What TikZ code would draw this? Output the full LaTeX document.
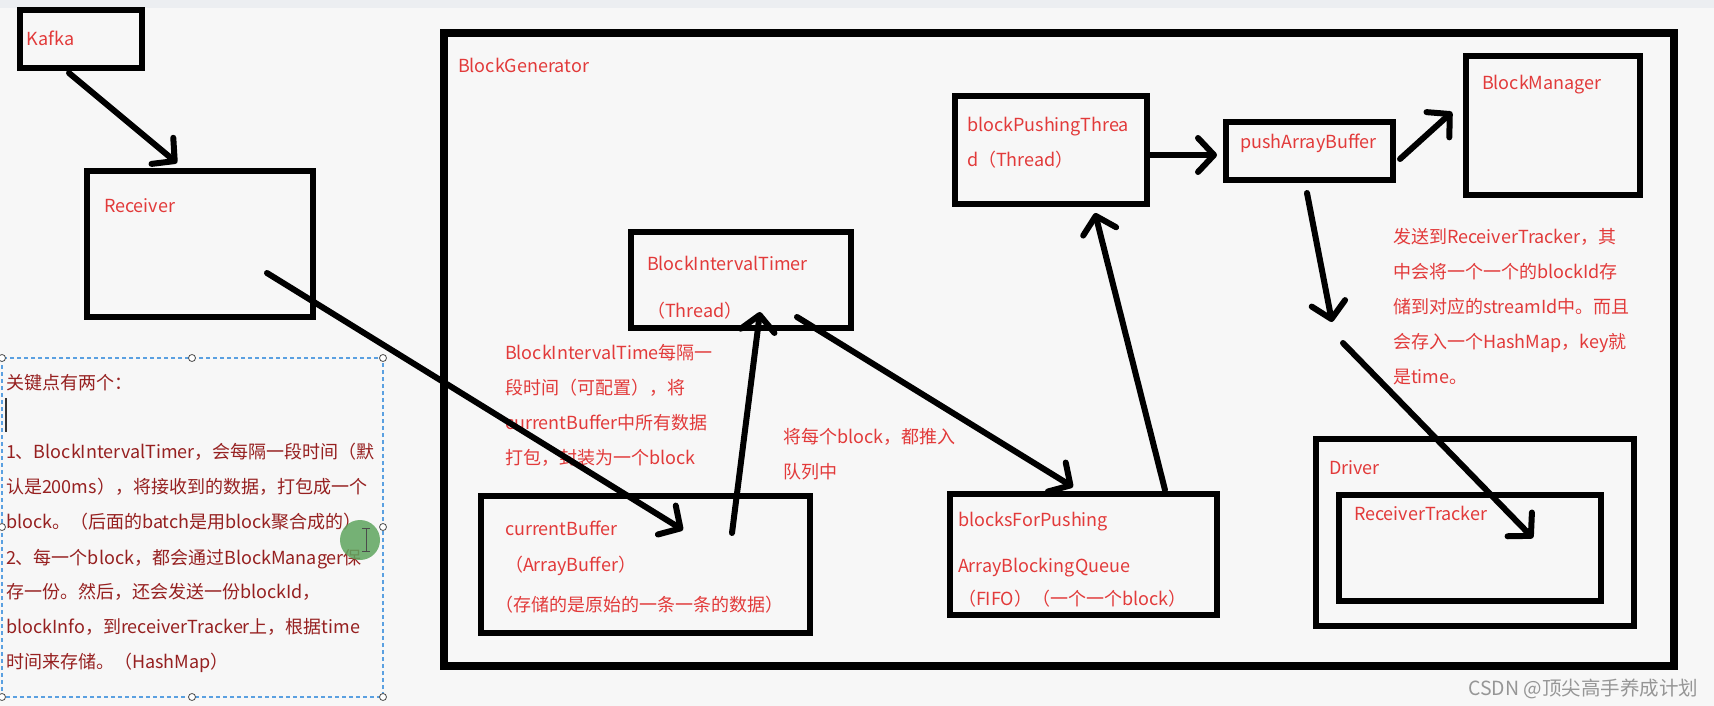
\documentclass[tikz,border=0pt]{standalone}
\usepackage{fontspec}
\setmainfont{Noto Sans CJK SC}
\usetikzlibrary{arrows.meta}
\definecolor{bgc}{RGB}{247,247,247}
\definecolor{topc}{RGB}{236,238,241}
\definecolor{txtred}{RGB}{226,58,58}
\definecolor{notered}{RGB}{150,32,32}
\definecolor{selblue}{RGB}{90,160,225}
\definecolor{wmgray}{RGB}{150,150,150}
\definecolor{greenc}{RGB}{95,165,95}
\begin{document}
\begin{tikzpicture}[x=1pt,y=-1pt,
  box/.style={draw=black, line width=6.5pt, inner sep=0pt, outer sep=0pt},
  lbl/.style={anchor=base west, inner sep=0pt, outer sep=0pt, text=txtred, font=\fontsize{18}{22}\selectfont},
  note/.style={lbl, text=notered},
  arr/.style={line width=6pt, line cap=round, -{Straight Barb[length=16pt,width=34pt,round]}},
  handle/.style={circle, draw=black!70, fill=white, line width=0.8pt, inner sep=0pt, minimum size=7pt}
]
\useasboundingbox (0,0) rectangle (1714,706);
\fill[bgc] (0,0) rectangle (1714,706);
\fill[topc] (0,0) rectangle (1714,8);

% boxes
\node[box, minimum width=122pt, minimum height=58pt] (kafka) at (81,39) {};
\node[box, minimum width=226pt, minimum height=146pt] (receiver) at (200,244) {};
\node[box, line width=7.5pt, minimum width=1230pt, minimum height=633pt] (bg) at (1059,349.5) {};
\node[box, minimum width=220pt, minimum height=96pt] (bit) at (741,280) {};
\node[box, minimum width=192pt, minimum height=108pt] (bpt) at (1051,150) {};
\node[box, minimum width=167pt, minimum height=58pt] (pab) at (1309.5,151) {};
\node[box, minimum width=174pt, minimum height=139pt] (bm) at (1553,125.5) {};
\node[box, minimum width=329pt, minimum height=137pt] (cb) at (645.5,564.5) {};
\node[box, minimum width=267pt, minimum height=121pt] (bfp) at (1083.5,554.5) {};
\node[box, minimum width=318pt, minimum height=187pt] (driver) at (1475,532.5) {};
\node[box, minimum width=262pt, minimum height=106pt] (rt) at (1470,548) {};

% labels
\node[lbl] (tkafka) at (27,46) {Kafka};
\node[lbl] (treceiver) at (104,212) {Receiver};
\node[lbl] (tbg) at (458,73) {BlockGenerator};
\node[lbl] (tbit1) at (647,270) {BlockIntervalTimer};
\node[lbl] (tbit2) at (647,317) {（Thread）};
\node[lbl] (tbpt1) at (967,132) {blockPushingThrea};
\node[lbl] (tbpt2) at (967,167) {d（Thread）};
\node[lbl] (tpab) at (1240,149) {pushArrayBuffer};
\node[lbl] (tbm) at (1482,90) {BlockManager};
\node[lbl] (tdriver) at (1329,474) {Driver};
\node[lbl] (trt) at (1354,520) {ReceiverTracker};
\node[lbl] (tbfp1) at (958,526) {blocksForPushing};
\node[lbl] (tbfp2) at (958,572) {ArrayBlockingQueue};
\node[lbl] (tbfp3) at (958,605) {（FIFO）（一个一个block）};
\node[lbl] (tcb1) at (505,535) {currentBuffer};
\node[lbl] (tcb2) at (505,571) {（ArrayBuffer）};
\node[lbl] (tcb3) at (495,611) {（存储的是原始的一条一条的数据）};

\node[lbl] (m1) at (505,359) {BlockIntervalTime每隔一};
\node[lbl] (m2) at (505,394) {段时间（可配置），将};
\node[lbl] (m3) at (505,429) {currentBuffer中所有数据};
\node[lbl] (m4) at (505,464) {打包，封装为一个block};

\node[lbl] (q1) at (783,443) {将每个block，都推入};
\node[lbl] (q2) at (783,478) {队列中};

\node[lbl] (r1) at (1393,243) {发送到ReceiverTracker，其};
\node[lbl] (r2) at (1393,278) {中会将一个一个的blockId存};
\node[lbl] (r3) at (1393,313) {储到对应的streamId中。而且};
\node[lbl] (r4) at (1393,348) {会存入一个HashMap，key就};
\node[lbl] (r5) at (1393,383) {是time。};

% left note with selection frame
\draw[selblue, line width=1.2pt, dash pattern=on 4pt off 3pt] (2,358) rectangle (383,697);
\foreach \hx/\hy [count=\i] in {2/358,192/358,383/358,2/527,383/527,2/697,192/697,383/697}
  \node[handle] (h\i) at (\hx,\hy) {};
\node[note] (n1) at (6,389) {关键点有两个：};
\draw[black!80, line width=2pt] (6,398) -- (6,432);
\node[note] (n2) at (6,458) {1、BlockIntervalTimer，会每隔一段时间（默};
\node[note] (n3) at (6,493) {认是200ms），将接收到的数据，打包成一个};
\node[note] (n4) at (6,528) {block。（后面的batch是用block聚合成的）};
\node[note] (n5) at (6,564) {2、每一个block，都会通过BlockManager保};
\node[note] (n6) at (6,598) {存一份。然后，还会发送一份blockId，};
\node[note] (n7) at (6,633) {blockInfo，到receiverTracker上，根据time};
\node[note] (n8) at (6,668) {时间来存储。（HashMap）};
\fill[greenc, opacity=0.85] (360,540) circle (20pt);
\draw[black!70, line width=1pt] (366,528) -- (366,551) (362,528) -- (370,528) (362,551) -- (370,551);

% watermark
\node[anchor=base west, inner sep=0pt, text=wmgray, font=\fontsize{19.5}{22}\selectfont] (wm) at (1468,695) {CSDN @顶尖高手养成计划};

% free ends
\coordinate (pabtip) at (1332,322);
\coordinate (rtstart) at (1343,343);

% arrows
\draw[arr] ([yshift=-5pt,xshift=-12pt]kafka.south) -- ([xshift=-23pt,yshift=8pt]receiver.north);
\draw[arr] ([xshift=67pt,yshift=-29pt]receiver.center) -- ([xshift=37.5pt,yshift=34.5pt]cb.center);
\draw[arr] ([xshift=86.5pt,yshift=31.5pt]cb.center) -- ([xshift=19pt,yshift=-32pt]bit.center);
\draw[arr] ([xshift=56pt,yshift=-37pt]bit.center) -- ([xshift=-10.5pt,yshift=67.5pt]bfp.center);
\draw[arr] ([xshift=81.5pt,yshift=64.5pt]bfp.center) -- ([xshift=44pt,yshift=-63pt]bpt.center);
\draw[arr] ([xshift=3pt,yshift=-5pt]bpt.east) -- ([xshift=-9pt,yshift=-4pt]pab.west);
\draw[arr] ([xshift=7pt,yshift=-8pt]pab.east) -- ([xshift=-14pt,yshift=13.5pt]bm.west);
\draw[arr] ([xshift=-2.5pt,yshift=-13pt]pab.south) -- (pabtip);
\draw[arr] (rtstart) -- ([xshift=63pt,yshift=10pt]rt.center);
\end{tikzpicture}
\end{document}
